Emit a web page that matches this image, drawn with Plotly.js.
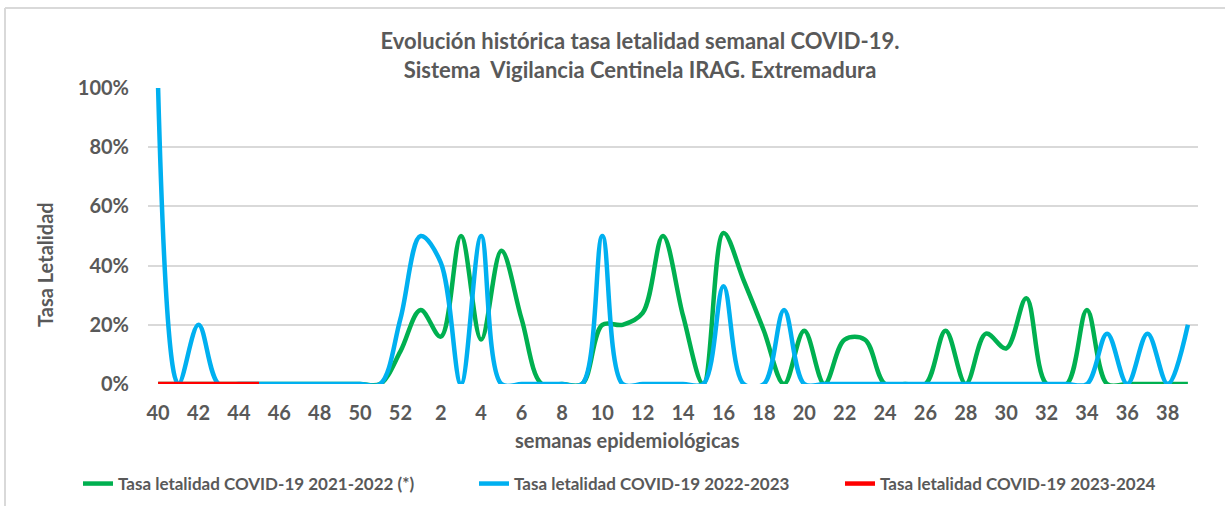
<!DOCTYPE html>
<html>
<head>
<meta charset="utf-8">
<script src="https://cdn.plot.ly/plotly-3.0.1.min.js"></script>
<style>
html,body{margin:0;padding:0;background:#fff;}
#chart{width:1225px;height:506px;}
</style>
</head>
<body>
<div id="chart"></div>
<script>
// Semanas epidemiológicas (40..52, 1..39)
var weeks = ["40","41","42","43","44","45","46","47","48","49","50","51","52",
  "1","2","3","4","5","6","7","8","9","10","11","12","13","14","15","16","17","18","19","20",
  "21","22","23","24","25","26","27","28","29","30","31","32","33","34","35","36","37","38","39"];

var tickWeeks = ["40","42","44","46","48","50","52","2","4","6","8","10","12","14","16","18","20",
  "22","24","26","28","30","32","34","36","38"];

// Tasa letalidad COVID-19 2021-2022 (*)
var rate2122 = [0,0,0,0,0,0,0,0,0,0,0,0,0.11,
  0.25,0.16,0.50,0.15,0.45,0.22,0,0,0,0.20,0.20,0.24,0.50,0.23,0,0.51,0.35,0.18,0,0.18,
  0,0.15,0.15,0,0,0,0.18,0,0.17,0.12,0.29,0,0,0.25,0,0,0,0,0];

// Tasa letalidad COVID-19 2022-2023
var rate2223 = [1.0,0,0.20,0,0,0,0,0,0,0,0,0,0.22,
  0.50,0.41,0,0.50,0,0,0,0,0,0.50,0,0,0,0,0,0.33,0,0,0.25,0,
  0,0,0,0,0,0,0,0,0,0,0,0,0,0,0.17,0,0.17,0,0.20];

// Tasa letalidad COVID-19 2023-2024
var rate2324 = [0,0,0,0,0,0,null,null,null,null,null,null,null,
  null,null,null,null,null,null,null,null,null,null,null,null,null,null,null,null,null,null,null,null,
  null,null,null,null,null,null,null,null,null,null,null,null,null,null,null,null,null,null,null];

var seriesNames = ["<b>Tasa letalidad COVID-19 2021-2022 (*)</b>",
                   "<b>Tasa letalidad COVID-19 2022-2023</b>",
                   "<b>Tasa letalidad COVID-19 2023-2024</b>"];
var seriesColors = ["#00B050","#00B0F0","#FF0000"];
var legendIds = ["legend","legend2","legend3"];

var FONT = "Lato, 'Open Sans', sans-serif";
var GRAY = "#595959";

function mk(y, i){
  return {
    x: weeks, y: y, type: "scatter", mode: "lines", name: seriesNames[i],
    legend: legendIds[i],
    line: {color: seriesColors[i], width: 4.5, shape: "spline", smoothing: 1},
    connectgaps: false
  };
}

var data = [mk(rate2122,0), mk(rate2223,1), mk(rate2324,2)];

function leg(px){
  return {
    orientation: "h", xref: "container", yref: "container",
    x: px/1225, xanchor: "left", y: 1 - 484/506, yanchor: "middle",
    font: {family: FONT, size: 17, color: GRAY}, itemwidth: 30
  };
}

var layout = {
  width: 1225, height: 506,
  margin: {l: 148, r: 27, t: 88, b: 122},
  paper_bgcolor: "#fff", plot_bgcolor: "#fff",
  font: {family: FONT, color: GRAY},
  title: {
    text: "<b>Evolución histórica tasa letalidad semanal COVID-19.</b><br><b>Sistema  Vigilancia Centinela IRAG. Extremadura</b>",
    font: {family: FONT, size: 22, color: GRAY},
    x: 640/1225, xref: "container", xanchor: "center",
    y: 1 - 49/506, yref: "container", yanchor: "top"
  },
  xaxis: {
    type: "category", categoryorder: "array", categoryarray: weeks,
    range: [-0.5, 51.5], tickvals: tickWeeks, ticktext: tickWeeks.map(function(t){return "<b>"+t+"</b>";}),
    showgrid: false, zeroline: false, showline: false, ticks: "",
    tickfont: {family: FONT, size: 20, color: GRAY}, ticklabelstandoff: 15,
    fixedrange: true
  },
  yaxis: {
    range: [0, 1], tickvals: [0,0.2,0.4,0.6,0.8,1.0],
    ticktext: ["<b>0%</b>","<b>20%</b>","<b>40%</b>","<b>60%</b>","<b>80%</b>","<b>100%</b>"],
    showgrid: true, gridcolor: "#D9D9D9", gridwidth: 2, zeroline: false, showline: false, ticks: "",
    tickfont: {family: FONT, size: 20, color: GRAY}, ticklabelstandoff: 18,
    fixedrange: true
  },
  annotations: [
    {text: "<b>semanas epidemiológicas</b>", xref: "paper", yref: "paper",
     x: (627-148)/1050, y: (384-440)/296, xanchor: "center", yanchor: "middle", showarrow: false,
     font: {family: FONT, size: 20, color: GRAY}},
    {text: "<b>Tasa Letalidad</b>", xref: "paper", yref: "paper", textangle: -90,
     x: (45-148)/1050, y: (384-265)/296, xanchor: "center", yanchor: "middle", showarrow: false,
     font: {family: FONT, size: 20, color: GRAY}}
  ],
  showlegend: true,
  legend: leg(78),
  legend2: leg(474),
  legend3: leg(840),
  shapes: [
    {type: "line", xref: "paper", yref: "paper", x0: (5-148)/1050, x1: (1225-148)/1050, y0: (384-8)/296, y1: (384-8)/296,
     line: {color: "#D9D9D9", width: 2}, layer: "below"},
    {type: "line", xref: "paper", yref: "paper", x0: (5-148)/1050, x1: (5-148)/1050, y0: (384-8)/296, y1: (384-506)/296,
     line: {color: "#D9D9D9", width: 2}, layer: "below"}
  ]
};

Plotly.newPlot("chart", data, layout, {displayModeBar: false, staticPlot: true});
</script>
</body>
</html>
